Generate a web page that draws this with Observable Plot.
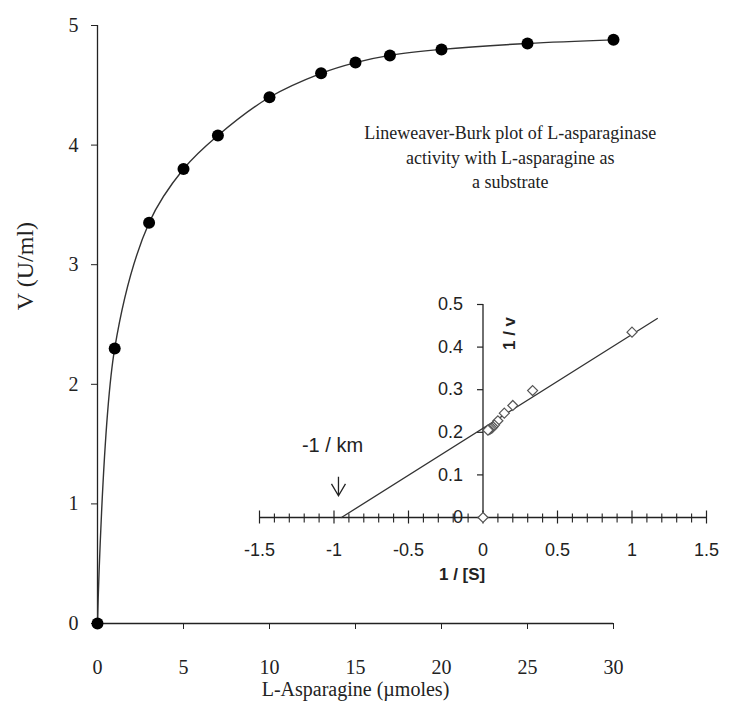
<!DOCTYPE html>
<html><head><meta charset="utf-8">
<script src="https://cdn.jsdelivr.net/npm/d3@7"></script>
<script src="https://cdn.jsdelivr.net/npm/@observablehq/plot@0.6"></script>
<style>
body{margin:0;background:#fff;}
#wrap{position:relative;width:737px;height:711px;overflow:hidden;background:#fff;}
#wrap svg{position:absolute;}
</style></head><body><div id="wrap"></div>
<script>
// Main Michaelis-Menten data
const substrate = [0, 1, 3, 5, 7, 10, 13, 15, 17, 20, 25, 30];
const velocity  = [0, 2.30, 3.35, 3.80, 4.08, 4.40, 4.60, 4.69, 4.75, 4.80, 4.85, 4.88];
const mainXTicks = [0, 5, 10, 15, 20, 25, 30];
const mainYTicks = [0, 1, 2, 3, 4, 5];
const mainXTitle = "L-Asparagine (µmoles)";
const mainYTitle = "V (U/ml)";
const annotationLines = ["Lineweaver-Burk plot of L-asparaginase", "activity with L-asparagine as", "a substrate"];

// Inset Lineweaver-Burk data
const invS = [0, 1, 0.333, 0.2, 0.143, 0.1, 0.077, 0.067, 0.059, 0.05, 0.04, 0.033];
const invV = [0, 0.435, 0.298, 0.263, 0.245, 0.227, 0.217, 0.213, 0.210, 0.208, 0.206, 0.205];
const fitX = [-0.95, 1.17];
const fitY = [0, 0.467];
const insetXTicks = [-1.5, -1, -0.5, 0, 0.5, 1, 1.5];
const insetXLabels = ["-1.5", "-1", "-0.5", "0", "0.5", "1", "1.5"];
const insetMinorTicks = [-1.4,-1.3,-1.2,-1.1,-0.9,-0.8,-0.7,-0.6,-0.4,-0.3,-0.2,-0.1,0.1,0.2,0.3,0.4,0.6,0.7,0.8,0.9,1.1,1.2,1.3,1.4];
const insetYTicks = [0, 0.1, 0.2, 0.3, 0.4, 0.5];
const insetYLabels = ["0", "0.1", "0.2", "0.3", "0.4", "0.5"];
const kmLabel = "-1 / km";
const kmArrow = [{x: -0.97, y: 0.072}];
const insetXTitle = "1 / [S]";
const insetYTitle = "1 / v";

const mainData = substrate.map((s, i) => ({s, v: velocity[i]}));
const lbData = invS.map((x, i) => ({x, y: invV[i]}));
const fitData = fitX.map((x, i) => ({x, y: fitY[i]}));

const wrap = document.getElementById("wrap");
const serif = "'Liberation Serif', 'Times New Roman', serif";
const sans = "'Liberation Sans', Arial, sans-serif";

const main = Plot.plot({
  width: 737, height: 711,
  marginLeft: 97, marginRight: 124, marginTop: 25, marginBottom: 88,
  x: {domain: [0, 30]},
  y: {domain: [0, 5]},
  style: {fontFamily: serif, fontSize: "20px", color: "#222", background: "transparent"},
  marks: [
    Plot.axisX({ticks: mainXTicks, tickFormat: d => String(d), tickSize: 6, tickPadding: 30, label: null, stroke: "#222"}),
    Plot.axisY({ticks: mainYTicks, tickFormat: d => String(d), tickSize: 6, tickPadding: 13, label: null, stroke: "#222"}),
    Plot.ruleX([0], {stroke: "#222", strokeWidth: 1.3}),
    Plot.ruleY([0], {stroke: "#222", strokeWidth: 1.3}),
    Plot.line(mainData, {x: "s", y: "v", curve: "catmull-rom", stroke: "#333", strokeWidth: 1.4}),
    Plot.dot(mainData, {x: "s", y: "v", r: 6, fill: "#000", stroke: "none"}),
    Plot.text([mainXTitle], {frameAnchor: "bottom", x: 15, dy: 72, fontSize: 20, fill: "#222"}),
    Plot.text([mainYTitle], {frameAnchor: "left", y: 2.62, dx: -72, rotate: -90, fontSize: 24, fill: "#222"}),
    Plot.text([annotationLines.join("\n")], {x: 24, y: 3.91, lineHeight: 1.34, fontSize: 18, fill: "#222"})
  ]
});
main.style.left = "0px"; main.style.top = "0px";
wrap.appendChild(main);

const majorTick = {draw(ctx) { ctx.moveTo(0, -7); ctx.lineTo(0, 6); }};
const minorTick = {draw(ctx) { ctx.moveTo(0, -4); ctx.lineTo(0, 5); }};
const leftTick = {draw(ctx) { ctx.moveTo(-6, 0); ctx.lineTo(0, 0); }};
const downArrow = {draw(ctx) { ctx.moveTo(0, -10); ctx.lineTo(0, 9); ctx.moveTo(-7, -3); ctx.lineTo(0, 9); ctx.lineTo(7, -3); }};

const inset = Plot.plot({
  width: 537, height: 320,
  marginLeft: 59, marginRight: 31, marginTop: 24, marginBottom: 83,
  x: {domain: [-1.5, 1.5], axis: null},
  y: {domain: [0, 0.5], axis: null},
  style: {fontFamily: sans, fontSize: "18px", color: "#222", background: "transparent", overflow: "visible"},
  marks: [
    Plot.ruleY([0], {stroke: "#222", strokeWidth: 1.3}),
    Plot.ruleX([0], {stroke: "#222", strokeWidth: 1.3}),
    Plot.dot(insetXTicks, {x: d => d, frameAnchor: "bottom", symbol: majorTick, stroke: "#222", strokeWidth: 1.2, fill: "none"}),
    Plot.dot(insetMinorTicks, {x: d => d, frameAnchor: "bottom", symbol: minorTick, stroke: "#222", strokeWidth: 1.1, fill: "none"}),
    Plot.text(insetXTicks, {x: d => d, frameAnchor: "bottom", dy: 38, text: (d, i) => insetXLabels[i], fill: "#222"}),
    Plot.dot(insetYTicks, {x: () => 0, y: d => d, symbol: leftTick, stroke: "#222", strokeWidth: 1.2, fill: "none"}),
    Plot.text(insetYTicks, {x: () => 0, y: d => d, dx: -20, textAnchor: "end", text: (d, i) => insetYLabels[i], fill: "#222"}),
    Plot.line(fitData, {x: "x", y: "y", stroke: "#333", strokeWidth: 1.3}),
    Plot.dot(lbData, {x: "x", y: "y", symbol: "diamond2", r: 4.5, stroke: "#555", strokeWidth: 1.2, fill: "#fff"}),
    Plot.text([kmLabel], {x: -1.01, y: 0.168, fontSize: 20, fill: "#222"}),
    Plot.dot(kmArrow, {x: "x", y: "y", symbol: downArrow, stroke: "#222", strokeWidth: 1.3, fill: "none"}),
    Plot.text([insetXTitle], {frameAnchor: "bottom", x: -0.14, dy: 62, fontWeight: "bold", fontSize: 17, fill: "#222"}),
    Plot.text([insetYTitle], {x: 0.175, y: 0.432, rotate: -90, fontWeight: "bold", fontSize: 17, fill: "#222"})
  ]
});
inset.style.left = "200px"; inset.style.top = "280px";
wrap.appendChild(inset);
</script>
</body></html>
